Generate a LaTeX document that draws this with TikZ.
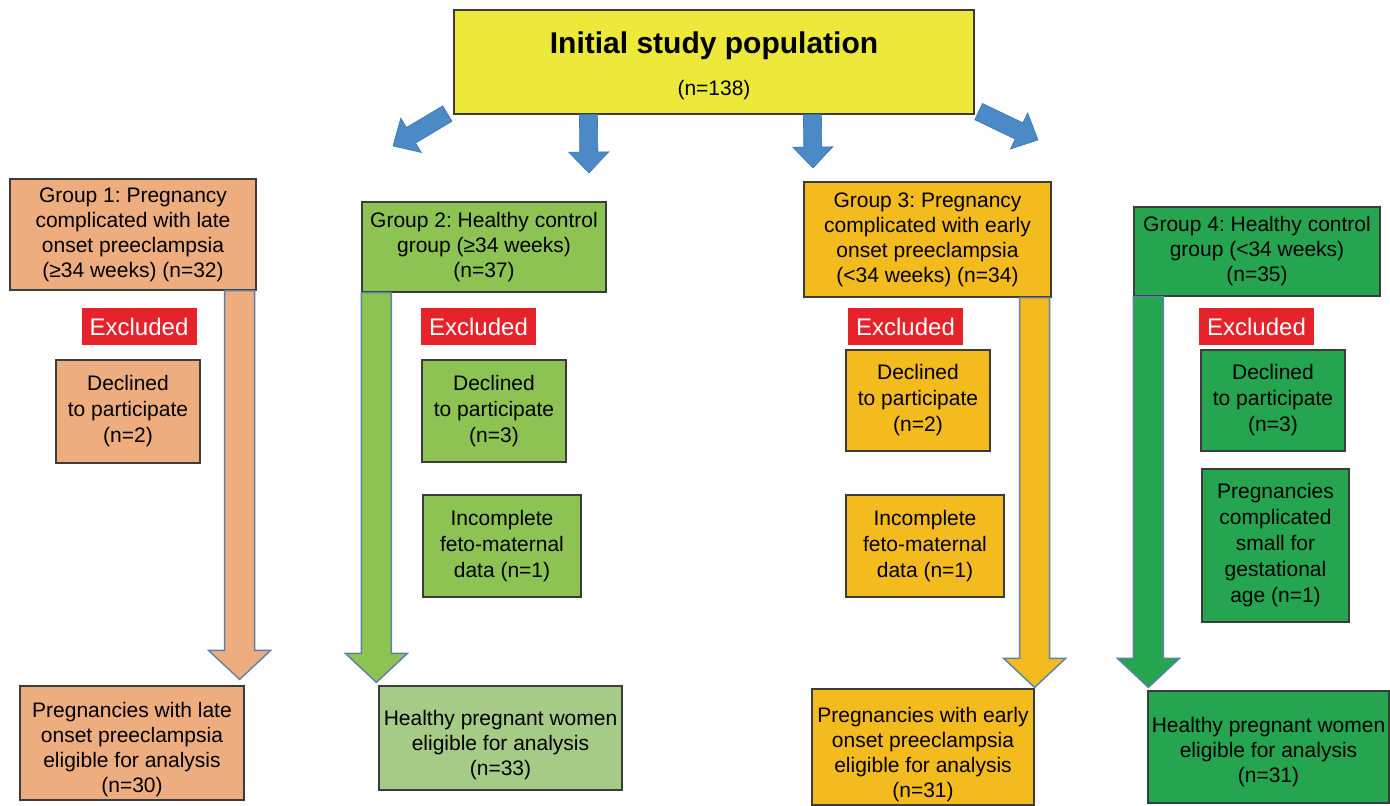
\documentclass[tikz,border=0pt]{standalone}
\usepackage{fontspec}
\setmainfont{Liberation Sans}
\usetikzlibrary{calc}
\frenchspacing
\definecolor{cyellow}{HTML}{EDE93B}
\definecolor{cpeach}{HTML}{EDAD7F}
\definecolor{cgreen}{HTML}{8CC352}
\definecolor{clgreen}{HTML}{A5CB87}
\definecolor{corange}{HTML}{F4BB1F}
\definecolor{cdgreen}{HTML}{25A54F}
\definecolor{cred}{HTML}{E6222A}
\definecolor{cblue}{HTML}{4B89C7}
\definecolor{cbluedark}{HTML}{3E76B0}
\definecolor{coutline}{HTML}{5C80A8}
\definecolor{cborder}{HTML}{3C3C3C}
% block arrow going straight down: #1 top-centre, #2 tip, #3 fill
\newcommand\bigarrow[3]{%
  \draw[bigarr, fill=#3] let \p1=(#1), \p2=(#2) in
    (\x1-15pt,\y1) -- (\x1+15pt,\y1) -- (\x1+15pt,\y2+29pt) -- (\x1+31pt,\y2+29pt)
    -- (\x1,\y2) -- (\x1-31pt,\y2+29pt) -- (\x1-15pt,\y2+29pt) -- cycle;}
% small block arrow in any direction: #1 start, #2 tip
\newcommand\smallarrow[2]{%
  \coordinate (sa-h) at ($(#2)!21pt!(#1)$);
  \draw[sarr] ($(#1)!9pt!90:(#2)$) -- ($(sa-h)!9pt!-90:(#1)$) -- ($(sa-h)!20pt!-90:(#1)$)
    -- (#2) -- ($(sa-h)!20pt!90:(#1)$) -- ($(sa-h)!9pt!90:(#1)$) -- ($(#1)!9pt!-90:(#2)$) -- cycle;}
\newcommand\lift[1]{\rule{0pt}{#1pt}}
\begin{document}
\begin{tikzpicture}[x=1pt, y=-1pt,
  box/.style={draw=cborder, line width=1.2pt, align=center, inner sep=2pt,
    font=\fontsize{21}{25}\selectfont},
  detail/.style={box, font=\fontsize{21}{26}\selectfont},
  excl/.style={fill=cred, text=white, minimum width=115pt, minimum height=37pt,
    inner sep=0pt, font=\fontsize{24}{28}\selectfont},
  bigarr/.style={draw=coutline, line width=1.4pt, line join=miter},
  sarr/.style={fill=cblue, draw=cbluedark, line width=0.6pt, line join=miter}]
\useasboundingbox[fill=white] (0,0) rectangle (1390,806);

% top
\node[box, fill=cyellow, minimum width=520pt, minimum height=104pt] (top) at (714,62)
  {{\fontsize{30}{34}\selectfont\bfseries\lift{30}Initial study population}\\[17pt](n=138)};

% small arrows
\coordinate (s1a) at ($(top.south west)+(-6,-1)$);
\coordinate (s1b) at (393,146);
\coordinate (s2a) at ($(top.south west)+(135,0)$);
\coordinate (s2b) at (589,173);
\coordinate (s3a) at ($(top.south west)+(359,0)$);
\coordinate (s3b) at (813,168);
\coordinate (s4a) at ($(top.south east)+(4,-3)$);
\coordinate (s4b) at (1038,140);
\smallarrow{s1a}{s1b}
\smallarrow{s2a}{s2b}
\smallarrow{s3a}{s3b}
\smallarrow{s4a}{s4b}

% group boxes
\node[box, fill=cpeach, minimum width=246pt, minimum height=111pt] (g1) at (133,234.5)
  {Group 1: Pregnancy\\complicated with late\\onset preeclampsia\\(≥34 weeks) (n=32)};
\node[box, fill=cgreen, minimum width=244pt, minimum height=90pt] (g2) at (484,247)
  {Group 2: Healthy control\\group (≥34 weeks)\\(n=37)};
\node[box, fill=corange, minimum width=247pt, minimum height=115pt] (g3) at (927.5,239.5)
  {Group 3: Pregnancy\\complicated with early\\onset preeclampsia\\(<34 weeks) (n=34)};
\node[box, fill=cdgreen, minimum width=246pt, minimum height=89pt] (g4) at (1257,251.5)
  {Group 4: Healthy control\\group (<34 weeks)\\(n=35)};

% excluded labels
\node[excl] (e1) at (139,326.5) {Excluded};
\node[excl] (e2) at (478.5,326.5) {Excluded};
\node[excl] (e3) at (905.5,326.5) {Excluded};
\node[excl] (e4) at (1256.5,326.5) {Excluded};

% exclusion details
\node[detail, fill=cpeach, minimum width=144pt, minimum height=103pt] (d1) at (128,411.5)
  {Declined\\to participate\\(n=2)};
\node[detail, fill=cgreen, minimum width=144pt, minimum height=102pt] (d2) at (494,411)
  {Declined\\to participate\\(n=3)};
\node[detail, fill=cgreen, minimum width=158pt, minimum height=102pt] (i2) at (502,546)
  {Incomplete\\feto-maternal\\data (n=1)};
\node[detail, fill=corange, minimum width=144pt, minimum height=101pt] (d3) at (918,400.5)
  {Declined\\to participate\\(n=2)};
\node[detail, fill=corange, minimum width=158pt, minimum height=102pt] (i3) at (925,546)
  {Incomplete\\feto-maternal\\data (n=1)};
\node[detail, fill=cdgreen, minimum width=144pt, minimum height=101pt] (d4) at (1273,400.5)
  {Declined\\to participate\\(n=3)};
\node[detail, fill=cdgreen, minimum width=147pt, minimum height=153pt] (s4) at (1275.5,545.5)
  {Pregnancies\\complicated\\small for\\gestational\\age (n=1)};

% final boxes
\node[box, fill=cpeach, minimum width=224pt, minimum height=114pt] (b1) at (132,743)
  {\lift{29}Pregnancies with late\\onset preeclampsia\\eligible for analysis\\(n=30)};
\node[box, fill=clgreen, minimum width=243pt, minimum height=104pt] (b2) at (500.5,738)
  {\lift{29}Healthy pregnant women\\eligible for analysis\\(n=33)};
\node[box, fill=corange, minimum width=222pt, minimum height=116pt] (b3) at (923,747)
  {\lift{31}Pregnancies with early\\onset preeclampsia\\eligible for analysis\\(n=31)};
\node[box, fill=cdgreen, minimum width=241pt, minimum height=112pt] (b4) at (1268.5,747)
  {\lift{25}Healthy pregnant women\\eligible for analysis\\(n=31)};

% big arrows
\coordinate (t1) at ($(g1.south east)+(-17,0)$);
\coordinate (p1) at ($(t1 |- b1.north)+(0,-6)$);
\coordinate (t2) at ($(g2.south west)+(15,0)$);
\coordinate (p2) at ($(t2 |- b2.north)+(0,-3)$);
\coordinate (t3) at ($(g3.south east)+(-17,0)$);
\coordinate (p3) at ($(t3 |- b3.north)+(0,-1)$);
\coordinate (t4) at ($(g4.south west)+(15,0)$);
\coordinate (p4) at ($(t4 |- b4.north)+(0,-3)$);
\bigarrow{t1}{p1}{cpeach}
\bigarrow{t2}{p2}{cgreen}
\bigarrow{t3}{p3}{corange}
\bigarrow{t4}{p4}{cdgreen}
\end{tikzpicture}
\end{document}
